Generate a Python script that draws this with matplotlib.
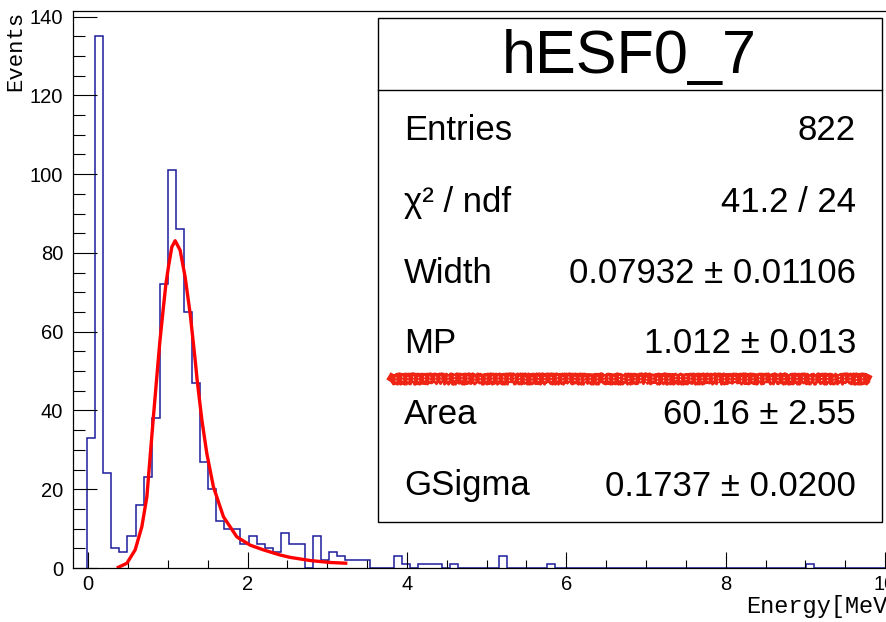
import numpy as np
import matplotlib.pyplot as plt
from matplotlib.lines import Line2D
from matplotlib.patches import Rectangle
from matplotlib.ticker import MultipleLocator

# histogram contents, 100 bins
counts = [
    33, 135, 24, 5, 4, 8, 16, 23, 38, 72,
    101, 86, 65, 47, 27, 20, 12, 10, 10, 6,
    8, 6, 5, 4, 9, 6, 6, 0, 8, 2,
    4, 3, 2, 2, 2, 0, 0, 0, 3, 1,
    0, 1, 1, 1, 0, 1, 0, 0, 0, 0,
    0, 3, 0, 0, 0, 0, 0, 1, 0, 0,
    0, 0, 0, 0, 0, 0, 0, 0, 0, 0,
    0, 0, 0, 0, 0, 0, 0, 0, 0, 0,
    0, 0, 0, 0, 0, 0, 0, 0, 0, 1,
    0, 0, 0, 0, 0, 0, 0, 0, 0, 0,
]
hist_lo, hist_hi = -0.013, 10.117

# fitted curve
fit_x = [0.36, 0.486, 0.59, 0.674, 0.737, 0.778, 0.819, 0.862, 0.90, 0.945,
         0.975, 1.008, 1.05, 1.092, 1.154, 1.217, 1.28, 1.342, 1.368, 1.427,
         1.489, 1.572, 1.698, 1.866, 2.033, 2.2, 2.409, 2.535, 2.785, 3.036, 3.253]
fit_y = [0.0, 1.2, 4.6, 10.5, 18.1, 28.3, 38.4, 48.6, 57.5, 66.3,
         72.0, 76.5, 81.5, 83.1, 80.7, 73.9, 64.6, 53.0, 47.7, 37.6,
         29.1, 20.6, 13.0, 7.9, 5.8, 4.6, 3.3, 2.7, 1.9, 1.4, 1.2]

stats_title = "hESF0_7"
stats_names = ["Entries", "χ² / ndf", "Width", "MP", "Area", "GSigma"]
stats_values = ["822", "41.2 / 24", "0.07932 ± 0.01106", "1.012 ± 0.013",
                "60.16 ± 2.55", "0.1737 ± 0.0200"]

W, H = 886, 622
sans = "Liberation Sans"
mono = "Liberation Mono"


def fx(px):
    return px / W


def fy(py):
    return 1 - py / H


fig = plt.figure(figsize=(W / 100, H / 100), dpi=100)
ax = fig.add_axes([fx(73), fy(568), (901 - 73) / W, (568 - 10.7) / H])

edges = np.linspace(hist_lo, hist_hi, len(counts) + 1)
ax.stairs(counts, edges, color="#1c1c9c", lw=1.1, baseline=0)
ax.plot(fit_x, fit_y, color="red", lw=2.4, solid_capstyle="butt")

ax.set_xlim(-0.19, 10.2)
ax.set_ylim(0, 141.5)
ax.xaxis.set_major_locator(MultipleLocator(2))
ax.xaxis.set_minor_locator(MultipleLocator(0.5))
ax.yaxis.set_major_locator(MultipleLocator(20))
ax.yaxis.set_minor_locator(MultipleLocator(5))
ax.tick_params(axis="x", which="major", direction="in", length=11.5, width=0.8, pad=5)
ax.tick_params(axis="x", which="minor", direction="in", length=5.8, width=0.8)
ax.tick_params(axis="y", which="major", direction="in", length=17, width=0.8, pad=7)
ax.tick_params(axis="y", which="minor", direction="in", length=8.6, width=0.8)
for lab in ax.get_xticklabels() + ax.get_yticklabels():
    lab.set_fontfamily(sans)
    lab.set_fontsize(14.5)
for sp in ax.spines.values():
    sp.set_linewidth(0.9)

fig.text(fx(16), fy(10.7), "Events", rotation=90, ha="center", va="top",
         family=mono, size=16)
# runs past the right edge, as in the original canvas
fig.text(fx(901), fy(607), "Energy[MeV]", ha="right", va="center",
         family=mono, size=17)

# stats box
box = Rectangle((fx(377.5), fy(522)), (881.5 - 377.5) / W, (522 - 18.3) / H,
                transform=fig.transFigure, facecolor="white", edgecolor="black",
                lw=1, zorder=5)
fig.add_artist(box)
fig.add_artist(Line2D([fx(377.5), fx(881.5)], [fy(90), fy(90)],
                      transform=fig.transFigure, color="black", lw=1, zorder=6))
fig.text(fx(629.5), fy(73.3), stats_title, ha="center", va="baseline",
         family=sans, size=44, zorder=7)
row_base = [140.5, 211.7, 282.7, 353.3, 424.5, 495.5]
for name, val, yb in zip(stats_names, stats_values, row_base):
    fig.text(fx(404), fy(yb), name, ha="left", va="baseline", family=sans, size=25, zorder=7)
    fig.text(fx(856), fy(yb), val, ha="right", va="baseline", family=sans, size=25, zorder=7)

# red marker scribble across the box
for dy, lw, sk in [(0, 6.0, (1.2, 3, 4)), (-3.5, 2.0, (1.8, 2, 3)),
                   (3.5, 2.0, (1.8, 2, 3)), (0, 3.5, (2.2, 4, 3))]:
    ln = Line2D([fx(392), fx(867)], [fy(378 + dy), fy(378 + dy)],
                transform=fig.transFigure, color="#ee2414", lw=lw, zorder=8)
    ln.set_sketch_params(*sk)
    fig.add_artist(ln)
for dy in (-1.5, 1.5):
    ln = Line2D([fx(395), fx(864)], [fy(378 + dy), fy(378 + dy)],
                transform=fig.transFigure, color="white", lw=0.6, zorder=9,
                linestyle=(0, (1.5, 9)))
    ln.set_sketch_params(1, 3, 2)
    fig.add_artist(ln)

fig.savefig("out.png", dpi=100)
